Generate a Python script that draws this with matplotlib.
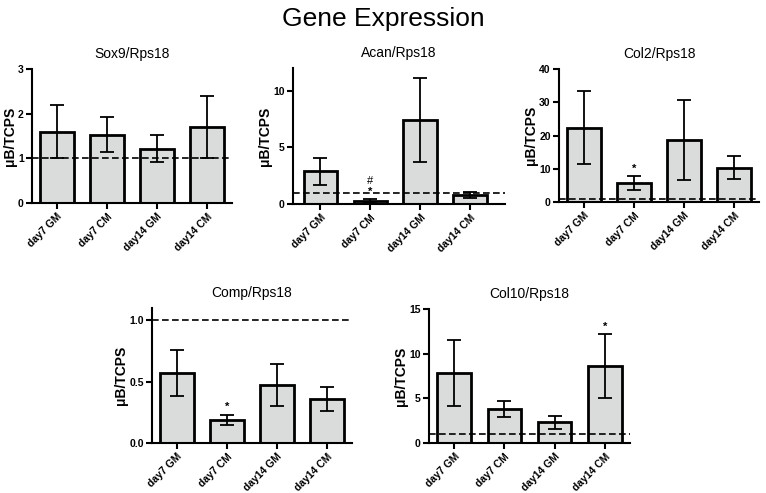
import matplotlib
matplotlib.use("Agg")
import matplotlib.pyplot as plt

plt.rcParams['font.family'] = ['Liberation Sans', 'DejaVu Sans']

groups = ["day7 GM", "day7 CM", "day14 GM", "day14 CM"]

# means and SEM
sox9_mean = [1.6, 1.53, 1.22, 1.7]
sox9_err = [0.6, 0.39, 0.31, 0.69]

acan_mean = [2.9, 0.3, 7.4, 0.78]
acan_err = [1.2, 0.1, 3.7, 0.25]

col2_mean = [22.3, 5.6, 18.6, 10.3]
col2_err = [11.0, 2.1, 12.1, 3.4]

comp_mean = [0.57, 0.19, 0.47, 0.36]
comp_err = [0.19, 0.04, 0.17, 0.1]

col10_mean = [7.8, 3.8, 2.3, 8.6]
col10_err = [3.7, 0.9, 0.7, 3.55]

panels = [
    # title, means, errs, ymax, yticks, yticklabels, marks, axes rect, xlim
    ("Sox9/Rps18", sox9_mean, sox9_err, 3, [0, 1, 2, 3], None, {},
     [32/766, 1-203/493, 200/766, 134/493], (-0.5, 3.5)),
    ("Acan/Rps18", acan_mean, acan_err, 12, [0, 5, 10], None, {1: ["*", "#"]},
     [293/766, 1-204/493, 212/766, 136/493], (-0.55, 3.7)),
    ("Col2/Rps18", col2_mean, col2_err, 40, [0, 10, 20, 30, 40], None, {1: ["*"]},
     [559/766, 1-202/493, 200/766, 133/493], (-0.5, 3.5)),
    ("Comp/Rps18", comp_mean, comp_err, 1.1, [0, 0.5, 1.0], ["0.0", "0.5", "1.0"], {1: ["*"]},
     [152/766, 1-443/493, 200/766, 135/493], (-0.5, 3.5)),
    ("Col10/Rps18", col10_mean, col10_err, 15, [0, 5, 10, 15], None, {3: ["*"]},
     [429/766, 1-443/493, 201/766, 134/493], (-0.5, 3.5)),
]

fig = plt.figure(figsize=(7.66, 4.93), dpi=100)
fig.text(0.5, 0.962, "Gene Expression", ha="center", va="center", fontsize=19)

for title, means, errs, ymax, yt, ytl, marks, rect, xl in panels:
    ax = fig.add_axes(rect)
    x = range(len(groups))
    ax.bar(x, means, width=0.67, color="#d9dcdb", edgecolor="black", linewidth=2, zorder=2)
    ax.errorbar(x, means, yerr=errs, fmt="none", ecolor="black", elinewidth=1.3,
                capsize=5, capthick=1.3, zorder=3)
    ax.axhline(1, color="black", linestyle=(0, (4, 2)), linewidth=1.2, zorder=4)
    for i, sym in marks.items():
        top = means[i] + errs[i]
        for k, s in enumerate(sym):
            ax.text(i, top + ymax * (0.02 + 0.08 * k), s, ha="center", va="bottom",
                    fontsize=8, fontweight="bold" if s == "*" else "normal")
    ax.set_xlim(*xl)
    ax.set_ylim(0, ymax)
    ax.set_yticks(yt)
    if ytl:
        ax.set_yticklabels(ytl)
    ax.set_xticks(list(x))
    ax.set_xticklabels(groups, rotation=45, ha="right", rotation_mode="anchor",
                       fontsize=7.5, fontweight="bold")
    for lab in ax.get_yticklabels():
        lab.set_fontweight("bold")
        lab.set_fontsize(7.5)
    ax.spines["top"].set_visible(False)
    ax.spines["right"].set_visible(False)
    ax.spines["left"].set_linewidth(1.5)
    ax.spines["bottom"].set_linewidth(1.5)
    ax.tick_params(width=1.5, length=4, pad=2)
    ax.set_ylabel("\u03bcB/TCPS", fontsize=10, fontweight="bold", labelpad=1)
    ax.set_title(title, fontsize=10, pad=8)

fig.savefig("out.png", dpi=100)
